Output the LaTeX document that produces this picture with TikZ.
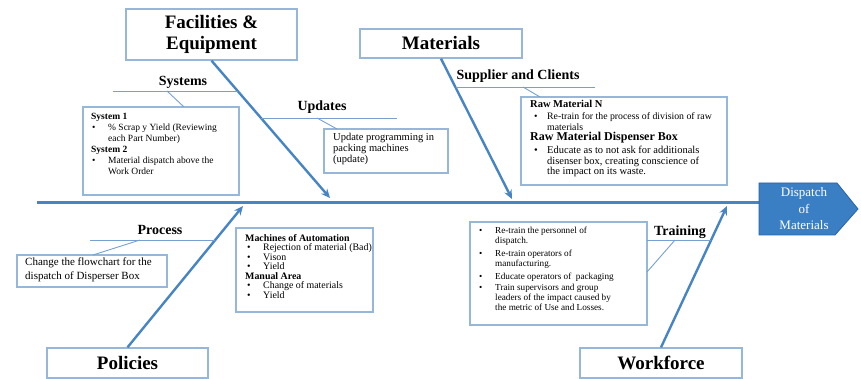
\documentclass[tikz,border=0pt]{standalone}
\usepackage{fontspec}
\setmainfont{Liberation Serif}
\usetikzlibrary{arrows.meta,calc}
\definecolor{spineblue}{RGB}{70,132,196}
\definecolor{boxblue}{RGB}{150,182,218}
\definecolor{thinblue}{RGB}{118,160,208}
\definecolor{dispfill}{RGB}{58,126,196}
\definecolor{dispedge}{RGB}{40,100,165}
\newcommand{\bitem}[3]{\hspace*{#1}\makebox[#2][l]{\textbullet}#3}
\newcommand{\cont}[2]{\hspace*{#1}#2}
\begin{document}
\begin{tikzpicture}[x=1pt,y=-1pt,
 catbox/.style={draw=boxblue,line width=1.3pt,fill=white,inner sep=0pt,align=center,font=\fontsize{19}{21}\selectfont\bfseries},
 infobox/.style={draw=boxblue,line width=1.1pt,inner sep=0pt},
 infotext/.style={anchor=north west,inner sep=0pt,align=left},
 sublabel/.style={font=\fontsize{14}{16}\selectfont\bfseries,inner sep=0pt},
 bone/.style={draw=spineblue,line width=2.4pt,-{Stealth[length=9pt,width=8pt]}},
 spine/.style={draw=spineblue,line width=3pt},
 twig/.style={draw=thinblue,line width=0.9pt},
]
\useasboundingbox (0,0) rectangle (861,379);

% category boxes
\node[catbox,minimum width=171pt,minimum height=51pt] (fac) at (211.5,34.5) {Facilities \&\\Equipment};
\node[catbox,minimum width=162pt,minimum height=29pt] (mat) at (441,43.5) {Materials};
\node[catbox,minimum width=161pt,minimum height=30pt] (pol) at (127.5,363) {Policies};
\node[catbox,minimum width=162pt,minimum height=30pt] (work) at (661,363) {Workforce};

% spine and head
\coordinate (spineL) at (37,203);
\coordinate (spineR) at (759,203);
\draw[spine] (spineL) -- (spineR);
\fill[dispfill,draw=dispedge,line width=0.8pt] (759,183) -- (837,183) -- (858,209) -- (835,235) -- (759,235) -- cycle;
\node[text=white,align=center,inner sep=0pt,font=\fontsize{13}{16.5}\selectfont] (dispatch) at (804,209) {Dispatch\\of\\Materials};

% main bones
\coordinate (facTip) at (330,198);
\coordinate (matTip) at (512,199);
\coordinate (polTip) at (243,206);
\coordinate (workTip) at (727,206);
\draw[bone] (fac.south) -- (facTip);
\draw[bone] (mat.south) -- (matTip);
\draw[bone] (pol.north) -- (polTip);
\draw[bone] (work.north) -- (workTip);

% info boxes
\node[infobox,minimum width=156pt,minimum height=88pt] (sysbox) at (161,151) {};
\node[infobox,minimum width=124pt,minimum height=44pt] (updbox) at (386,151) {};
\node[infobox,minimum width=206pt,minimum height=88pt] (supbox) at (624,141) {};
\node[infobox,minimum width=150pt,minimum height=32pt] (procbox) at (92,271) {};
\node[infobox,minimum width=137pt,minimum height=84pt] (machbox) at (304.5,270) {};
\node[infobox,minimum width=177pt,minimum height=103pt] (trainbox) at (558.5,273.5) {};

% sub-branch labels
\node[sublabel] (syslab) at (183,82) {Systems};
\node[sublabel] (updlab) at (322,107) {Updates};
\node[sublabel] (suplab) at (518,76) {Supplier and Clients};
\node[sublabel] (proclab) at (160,230) {Process};
\node[sublabel] (trainlab) at (680,232) {Training};

% twigs
\coordinate (sysA) at (113,91); \coordinate (sysB) at (238,91);
\coordinate (sysC) at (167,91); \coordinate (sysD) at (184,107);
\draw[twig] (sysA) -- (sysB); \draw[twig] (sysC) -- (sysD);
\coordinate (updA) at (261,118); \coordinate (updB) at (397,118);
\coordinate (updC) at (317,118); \coordinate (updD) at (337,129);
\draw[twig] (updA) -- (updB); \draw[twig] (updC) -- (updD);
\coordinate (supA) at (455.6,87); \coordinate (supB) at (595,87);
\coordinate (supC) at (523,87); \coordinate (supD) at (540,97);
\draw[twig] (supA) -- (supB); \draw[twig] (supC) -- (supD);
\coordinate (procA) at (90,240); \coordinate (procB) at (215,240);
\coordinate (procC) at (140,240); \coordinate (procD) at (93,255);
\draw[twig] (procA) -- (procB); \draw[twig] (procC) -- (procD);
\coordinate (trA) at (647,240); \coordinate (trB) at (711,240);
\coordinate (trC) at (675,240); \coordinate (trD) at (647,272);
\draw[twig] (trA) -- (trB); \draw[twig] (trC) -- (trD);

% texts
\node[infotext,font=\fontsize{9.5}{11}\selectfont] (systxt) at (91,113) {%
\textbf{System 1}\\
\bitem{1pt}{16pt}{\% Scrap y Yield (Reviewing}\\
\cont{17pt}{each Part Number)}\\
\textbf{System 2}\\
\bitem{1pt}{16pt}{Material dispatch above the}\\
\cont{17pt}{Work Order}};

\node[infotext,font=\fontsize{10.5}{11}\selectfont] (updtxt) at (333,133) {%
Update programming in\\packing machines\\(update)};

\node[infotext,font=\fontsize{10.5}{11}\selectfont\bfseries] (suptxt0) at (530,100) {Raw Material N};
\node[infotext,font=\fontsize{9.8}{11}\selectfont] (suptxt1) at (530,112) {%
\bitem{4pt}{13pt}{Re-train for the process of division of raw}\\
\cont{17pt}{materials}};
\node[infotext,font=\fontsize{12}{12}\selectfont\bfseries] (suptxt2) at (530,132) {Raw Material Dispenser Box};
\node[infotext,font=\fontsize{10.5}{10.6}\selectfont] (suptxt3) at (530,146) {%
\bitem{4pt}{13pt}{Educate as to not ask for additionals}\\
\cont{17pt}{disenser box, creating conscience of}\\
\cont{17pt}{the impact on its waste.}};

\node[infotext,font=\fontsize{11}{13.5}\selectfont] (proctxt) at (25,258) {%
Change the flowchart for the\\dispatch of Disperser Box};

\node[infotext,font=\fontsize{9.9}{9.5}\selectfont] (machtxt) at (245,234) {%
\textbf{Machines of Automation}\\
\bitem{2pt}{16pt}{Rejection of material (Bad)}\\
\bitem{2pt}{16pt}{Vison}\\
\bitem{2pt}{16pt}{Yield}\\
\textbf{Manual Area}\\
\bitem{2pt}{16pt}{Change of materials}\\
\bitem{2pt}{16pt}{Yield}};

\node[infotext,font=\fontsize{9.2}{10}\selectfont] (traintxt) at (479,227) {%
\bitem{0pt}{16pt}{Re-train the personnel of}\\
\cont{16pt}{dispatch.}\\[3pt]
\bitem{0pt}{16pt}{Re-train operators of}\\
\cont{16pt}{manufacturing.}\\[3pt]
\bitem{0pt}{16pt}{Educate operators of\ \ packaging}\\[0.5pt]
\bitem{0pt}{16pt}{Train supervisors and group}\\
\cont{16pt}{leaders of the impact caused by}\\
\cont{16pt}{the metric of Use and Losses.}};
\end{tikzpicture}
\end{document}
